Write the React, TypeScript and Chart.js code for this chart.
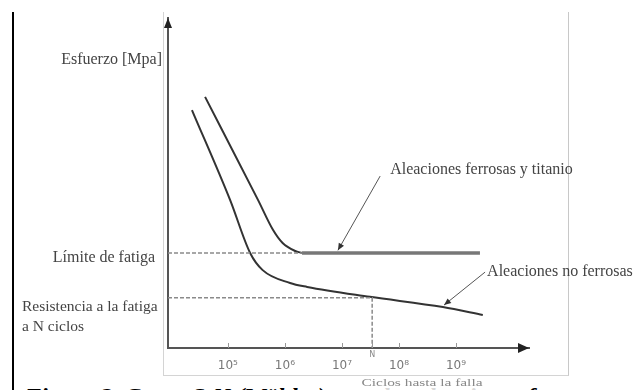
import { useEffect, useRef } from "react";
import { Chart, registerables } from "chart.js";

Chart.register(...registerables);

// log10(cycles) range and stress range (arbitrary MPa units)
const X_MIN = 3.95;
const X_MAX = 10.28;
const Y_MIN = 0;
const Y_MAX = 100;

const X_TICKS = [5, 6, 7, 8, 9];
const X_TICK_LABELS = ["10⁵", "10⁶", "10⁷", "10⁸", "10⁹"];
const N_LOG = 7.53;

const FATIGUE_LIMIT = 28.8;
const FATIGUE_STRENGTH_N = 15.2;
const Y_TITLE_VALUE = 87.3;

const FERROUS_X = [4.6, 5.53, 5.79, 5.96, 6.18, 6.3];
const FERROUS_Y = [76.1, 44.8, 35.8, 31.8, 29.4, 28.8];
const FERROUS_FLAT_X = [6.3, 9.42];
const FERROUS_FLAT_Y = [28.8, 28.8];

const NONFERROUS_X = [4.37, 5.04, 5.39, 5.61, 6.09, 6.39, 7.49, 8.77, 9.47];
const NONFERROUS_Y = [72.1, 44.8, 28.8, 23.6, 19.7, 18.5, 15.5, 12.4, 10.0];

const FERROUS_LEADER_X = [7.67, 6.93];
const FERROUS_LEADER_Y = [52.1, 29.6];
const NONFERROUS_LEADER_X = [9.51, 8.79];
const NONFERROUS_LEADER_Y = [23.0, 13.0];

const LABEL_Y_TITLE = "Esfuerzo [Mpa]";
const LABEL_LIMIT = "Límite de fatiga";
const LABEL_STRENGTH = ["Resistencia a la fatiga", "a N ciclos"];
const LABEL_FERROUS = "Aleaciones ferrosas y titanio";
const LABEL_NONFERROUS = "Aleaciones no ferrosas";
const LABEL_X_TITLE = "Ciclos hasta la falla";
const CAPTION = "Figura 2. Curva S-N (Wöhler) para las aleaciones ferrosas";

const pts = (xs: number[], ys: number[]) => xs.map((x, i) => ({ x, y: ys[i] }));

const SERIF = '"Liberation Serif", "Times New Roman", serif';

const decorPlugin = {
  id: "decor",
  afterDraw(chart: any) {
    const { ctx, chartArea: a, scales } = chart;
    const x = scales.x;
    const y = scales.y;
    ctx.save();
    ctx.fillStyle = "#222";
    // y-axis arrow
    ctx.beginPath();
    ctx.moveTo(a.left, a.top);
    ctx.lineTo(a.left - 4, a.top + 10);
    ctx.lineTo(a.left + 4, a.top + 10);
    ctx.closePath();
    ctx.fill();
    // x-axis arrow
    ctx.beginPath();
    ctx.moveTo(a.right, a.bottom);
    ctx.lineTo(a.right - 11, a.bottom - 5);
    ctx.lineTo(a.right - 11, a.bottom + 5);
    ctx.closePath();
    ctx.fill();

    // tick marks (upwards)
    ctx.strokeStyle = "#999";
    ctx.lineWidth = 1;
    [...X_TICKS, N_LOG].forEach((v) => {
      const px = Math.round(x.getPixelForValue(v)) + 0.5;
      ctx.beginPath();
      ctx.moveTo(px, a.bottom - 5);
      ctx.lineTo(px, a.bottom);
      ctx.stroke();
    });

    // leader arrowheads
    const head = (xs: number[], ys: number[]) => {
      const x0 = x.getPixelForValue(xs[0]);
      const y0 = y.getPixelForValue(ys[0]);
      const x1 = x.getPixelForValue(xs[1]);
      const y1 = y.getPixelForValue(ys[1]);
      const ang = Math.atan2(y1 - y0, x1 - x0);
      const L = 7;
      const W = 3;
      ctx.fillStyle = "#333";
      ctx.beginPath();
      ctx.moveTo(x1, y1);
      ctx.lineTo(x1 - L * Math.cos(ang) + W * Math.sin(ang), y1 - L * Math.sin(ang) - W * Math.cos(ang));
      ctx.lineTo(x1 - L * Math.cos(ang) - W * Math.sin(ang), y1 - L * Math.sin(ang) + W * Math.cos(ang));
      ctx.closePath();
      ctx.fill();
      return { x0, y0 };
    };
    const f0 = head(FERROUS_LEADER_X, FERROUS_LEADER_Y);
    const n0 = head(NONFERROUS_LEADER_X, NONFERROUS_LEADER_Y);

    ctx.fillStyle = "#444";
    ctx.textBaseline = "middle";
    ctx.font = `16px ${SERIF}`;
    ctx.textAlign = "right";
    ctx.fillText(LABEL_Y_TITLE, a.left - 6, y.getPixelForValue(Y_TITLE_VALUE));
    ctx.fillText(LABEL_LIMIT, a.left - 13, y.getPixelForValue(FATIGUE_LIMIT) + 5);
    ctx.textAlign = "left";
    ctx.font = `15.5px ${SERIF}`;
    const ry = y.getPixelForValue(FATIGUE_STRENGTH_N);
    ctx.fillText(LABEL_STRENGTH[0], 22, ry + 9);
    ctx.fillText(LABEL_STRENGTH[1], 22, ry + 29);

    ctx.font = `16px ${SERIF}`;
    ctx.fillText(LABEL_FERROUS, f0.x0 + 10, f0.y0 - 6);
    ctx.fillText(LABEL_NONFERROUS, n0.x0 + 2, n0.y0);

    // N label
    ctx.fillStyle = "#888";
    ctx.textAlign = "center";
    ctx.font = `8px "DejaVu Sans", sans-serif`;
    ctx.fillText("N", x.getPixelForValue(N_LOG), a.bottom + 7);

    // x title with white background (slightly stretched like the source)
    ctx.font = `11px ${SERIF}`;
    const tx = 422;
    const ty = 383;
    const w = ctx.measureText(LABEL_X_TITLE).width * 1.4;
    ctx.fillStyle = "rgba(255,255,255,0.85)";
    ctx.fillRect(tx - w / 2 - 2, ty - 7, w + 4, 14);
    ctx.fillStyle = "#888";
    ctx.translate(tx, ty);
    ctx.scale(1.4, 1);
    ctx.fillText(LABEL_X_TITLE, 0, 0);
    ctx.restore();
  },
};

export default function App() {
  const ref = useRef<HTMLCanvasElement | null>(null);

  useEffect(() => {
    if (!ref.current) return;
    const chart = new Chart(ref.current, {
      type: "scatter",
      data: {
        datasets: [
          {
            data: pts([X_MIN, FERROUS_FLAT_X[0]], [FATIGUE_LIMIT, FATIGUE_LIMIT]),
            showLine: true,
            borderColor: "#8a8a8a",
            borderWidth: 1.5,
            borderDash: [4, 2],
            pointRadius: 0,
          },
          {
            data: pts([X_MIN, N_LOG, N_LOG], [FATIGUE_STRENGTH_N, FATIGUE_STRENGTH_N, Y_MIN]),
            showLine: true,
            borderColor: "#8a8a8a",
            borderWidth: 1.5,
            borderDash: [4, 2],
            pointRadius: 0,
          },
          {
            data: pts(FERROUS_FLAT_X, FERROUS_FLAT_Y),
            showLine: true,
            borderColor: "#777",
            borderWidth: 3.5,
            pointRadius: 0,
          },
          {
            data: pts(FERROUS_X, FERROUS_Y),
            showLine: true,
            borderColor: "#333",
            borderWidth: 2,
            cubicInterpolationMode: "monotone",
            pointRadius: 0,
          },
          {
            data: pts(NONFERROUS_X, NONFERROUS_Y),
            showLine: true,
            borderColor: "#333",
            borderWidth: 2,
            cubicInterpolationMode: "monotone",
            pointRadius: 0,
          },
          {
            data: pts(FERROUS_LEADER_X, FERROUS_LEADER_Y),
            showLine: true,
            borderColor: "#555",
            borderWidth: 1,
            pointRadius: 0,
          },
          {
            data: pts(NONFERROUS_LEADER_X, NONFERROUS_LEADER_Y),
            showLine: true,
            borderColor: "#555",
            borderWidth: 1,
            pointRadius: 0,
          },
        ],
      },
      options: {
        responsive: false,
        animation: false,
        layout: { padding: { top: 18, right: 104, left: 0, bottom: 0 } },
        plugins: { legend: { display: false }, tooltip: { enabled: false } },
        scales: {
          x: {
            type: "linear",
            min: X_MIN,
            max: X_MAX,
            afterBuildTicks: (s: any) => {
              s.ticks = X_TICKS.map((v) => ({ value: v }));
            },
            afterFit: (s: any) => {
              s.height = 42;
            },
            grid: { display: false, drawTicks: false },
            border: { display: true, color: "#555", width: 2 },
            ticks: {
              padding: 11,
              color: "#777",
              font: { family: '"DejaVu Sans", sans-serif', size: 12 },
              callback: (v: any) => {
                const i = X_TICKS.indexOf(Number(v));
                return i >= 0 ? X_TICK_LABELS[i] : "";
              },
              maxRotation: 0,
            },
          },
          y: {
            type: "linear",
            min: Y_MIN,
            max: Y_MAX,
            afterFit: (s: any) => {
              s.width = 168;
            },
            grid: { display: false, drawTicks: false },
            border: { display: true, color: "#555", width: 2 },
            ticks: { display: false },
          },
        },
      },
      plugins: [decorPlugin],
    } as any);
    return () => chart.destroy();
  }, []);

  return (
    <div
      style={{
        position: "fixed",
        left: 0,
        top: 0,
        width: 633,
        height: 390,
        overflow: "hidden",
        background: "#fff",
      }}
    >
      <div style={{ position: "absolute", left: 12, top: 12, width: 2, height: 378, background: "#000" }} />
      <div
        style={{
          position: "absolute",
          left: 163,
          top: 12,
          width: 404,
          height: 363,
          borderLeft: "1px solid #d4d4d4",
          borderRight: "1px solid #c8c8c8",
          borderBottom: "1px solid #d4d4d4",
        }}
      />
      <div
        style={{
          position: "absolute",
          left: 25,
          top: 384,
          font: `italic bold 24px ${SERIF}`,
          lineHeight: "24px",
          whiteSpace: "nowrap",
          color: "#000",
        }}
      >
        {CAPTION}
      </div>
      <canvas ref={ref} width={633} height={390} style={{ position: "absolute", left: 0, top: 0 }} />
    </div>
  );
}
